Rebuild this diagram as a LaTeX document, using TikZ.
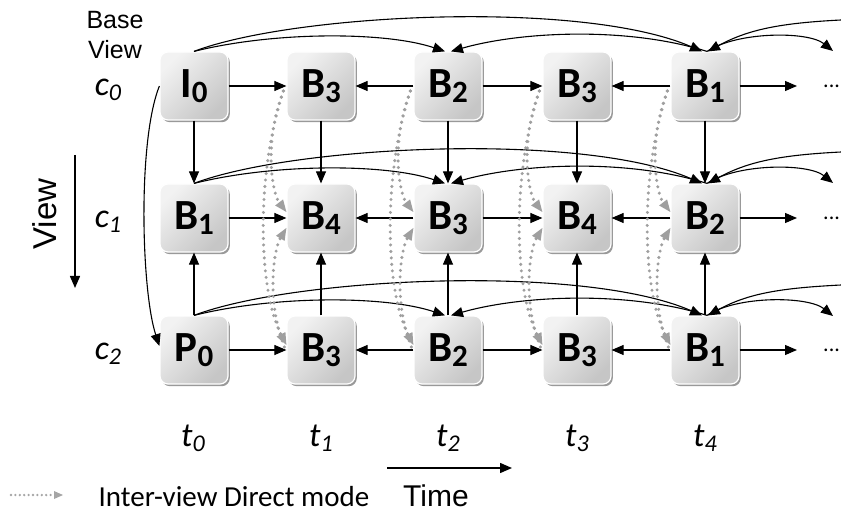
\documentclass[tikz,border=0pt]{standalone}
\usepackage{fontspec}
\setmainfont{Carlito}
\newfontfamily\arialf{Liberation Sans}
\usetikzlibrary{arrows.meta,shadows}
\newcommand\frlbl[2]{#1\raisebox{-5pt}{\fontsize{31}{31}\selectfont #2}}
\newcommand\sblbl[2]{#1\raisebox{-5pt}{\fontsize{24}{24}\selectfont #2}}
\begin{document}
\begin{tikzpicture}[x=1pt,y=1pt,
  fr/.style={rounded corners=8pt, minimum width=68pt, minimum height=68pt, inner sep=0pt,
    draw=white, line width=1.2pt, top color=gray!10, bottom color=gray!45, shading angle=45,
    drop shadow={shadow xshift=1.8pt, shadow yshift=-2.2pt, fill=gray!80, opacity=1},
    font=\fontsize{43}{43}\selectfont\bfseries},
  ar/.style={line width=1.1pt, -{Triangle[length=12pt,width=10pt]}},
  dt/.style={draw=gray!75, line width=3.4pt, line cap=round, dash pattern=on 0pt off 6.5pt,
    -{Triangle[length=12pt,width=10pt,fill=gray!75,line width=0pt]}},
  dtsmall/.style={draw=gray!70, line width=2.6pt, line cap=round, dash pattern=on 0pt off 4.4pt,
    -{Triangle[length=9pt,width=8pt,fill=gray!70,line width=0pt]}},
  lab/.style={font=\fontsize{34}{34}\selectfont\itshape},
  arl/.style={font=\arialf\fontsize{25}{25}\selectfont},
  dotsr/.style={anchor=west, font=\fontsize{22}{22}\selectfont, inner sep=0pt},
]
\useasboundingbox (0,0) rectangle (841,-513);

% frames
\node[fr] (a0) at (194,-86) {\frlbl{I}{0}};
\node[fr] (a1) at (321,-86) {\frlbl{B}{3}};
\node[fr] (a2) at (448,-86) {\frlbl{B}{2}};
\node[fr] (a3) at (577,-86) {\frlbl{B}{3}};
\node[fr] (a4) at (705,-86) {\frlbl{B}{1}};
\node[fr] (b0) at (194,-218) {\frlbl{B}{1}};
\node[fr] (b1) at (321,-218) {\frlbl{B}{4}};
\node[fr] (b2) at (448,-218) {\frlbl{B}{3}};
\node[fr] (b3) at (577,-218) {\frlbl{B}{4}};
\node[fr] (b4) at (705,-218) {\frlbl{B}{2}};
\node[fr] (c0) at (194,-350) {\frlbl{P}{0}};
\node[fr] (c1) at (321,-350) {\frlbl{B}{3}};
\node[fr] (c2) at (448,-350) {\frlbl{B}{2}};
\node[fr] (c3) at (577,-350) {\frlbl{B}{3}};
\node[fr] (c4) at (705,-350) {\frlbl{B}{1}};

% labels
\node[arl] (base) at (115,-20) {Base};
\node[arl] (bview) at (115,-50) {View};
\node[lab] (lc0) at (108,-90) {\sblbl{c}{0}};
\node[lab] (lc1) at (108,-222) {\sblbl{c}{1}};
\node[lab] (lc2) at (108,-354) {\sblbl{c}{2}};
\node[lab] (lt0) at (193,-438) {\sblbl{t}{0}};
\node[lab] (lt1) at (321,-438) {\sblbl{t}{1}};
\node[lab] (lt2) at (448,-438) {\sblbl{t}{2}};
\node[lab] (lt3) at (577,-438) {\sblbl{t}{3}};
\node[lab] (lt4) at (705,-438) {\sblbl{t}{4}};
\node[font=\arialf\fontsize{33}{33}\selectfont, rotate=90] (vw) at (45,-214) {View};
\coordinate (v1) at (75,-155);
\coordinate (v2) at (75,-288);
\draw[ar, line width=1.5pt] (v1) -- (v2);
\coordinate (tm1) at (387,-468);
\coordinate (tm2) at (512,-468);
\draw[ar, line width=1.5pt] (tm1) -- (tm2);
\node[font=\arialf\fontsize{30}{30}\selectfont] (time) at (436,-496) {Time};
\node[font=\fontsize{29}{29}\selectfont] (legend) at (234,-497) {Inter-view Direct mode};
\coordinate (lg1) at (11,-495);
\coordinate (lg2) at (63,-495);
\draw[dtsmall] (lg1) -- (lg2);

% dots at right
\node[dotsr] (d0) at (823,-86) {...};
\node[dotsr] (d1) at (823,-218) {...};
\node[dotsr] (d2) at (823,-350) {...};

% right-side coordinates
\coordinate (ra) at (797,-86);
\coordinate (rb) at (797,-218);
\coordinate (rc) at (797,-350);
\coordinate (ina) at (841,-20);
\coordinate (inb) at (841,-152);
\coordinate (inc) at (841,-285);
\coordinate (outa) at (833,-51);
\coordinate (outb) at (833,-183);
\coordinate (outc) at (833,-316);

% horizontal arrows
\foreach \r in {a,b,c}{
  \draw[ar] (\r0) -- (\r1);
  \draw[ar] (\r2) -- (\r1);
  \draw[ar] (\r2) -- (\r3);
  \draw[ar] (\r4) -- (\r3);
  \draw[ar] (\r4) -- (r\r);
  % curves above each row
  \draw[ar] (\r0.north) .. controls +(100,38) and +(-120,52) .. ([xshift=-3pt]\r4.north);
  \draw[ar] (\r0.north) .. controls +(80,20) and +(-60,20) .. ([xshift=-3pt]\r2.north);
  \draw[ar] ([xshift=2pt]\r4.north) .. controls +(-80,25) and +(70,20) .. ([xshift=3pt]\r2.north);
  \draw[ar] (in\r) .. controls +(-60,-3) and +(40,22) .. ([xshift=3pt]\r4.north);
  \draw[ar] ([xshift=2pt]\r4.north) .. controls +(30,20) and +(-25,20) .. (out\r);
}
% vertical arrows
\foreach \k in {0,...,4}{
  \draw[ar] (a\k) -- (b\k);
  \draw[ar] (c\k) -- (b\k);
}
% left curve
\draw[ar] (a0.west) .. controls +(-22,-55) and +(-18,55) .. ([yshift=4pt]c0.west);

% inter-view direct mode
\foreach \k in {1,...,4}{
  \draw[dt] ([xshift=-3pt,yshift=-5pt]a\k.west) .. controls +(-21,-55) and +(-13,17) .. ([yshift=6pt]b\k.west);
  \draw[dt] ([xshift=-3pt,yshift=-5pt]a\k.west) .. controls +(-28,-85) and +(-28,55) .. ([yshift=5pt]c\k.west);
  \draw[dt] ([xshift=-2pt,yshift=3pt]c\k.west) .. controls +(-18,45) and +(-13,-22) .. ([yshift=-10pt]b\k.west);
}
\end{tikzpicture}
\end{document}
